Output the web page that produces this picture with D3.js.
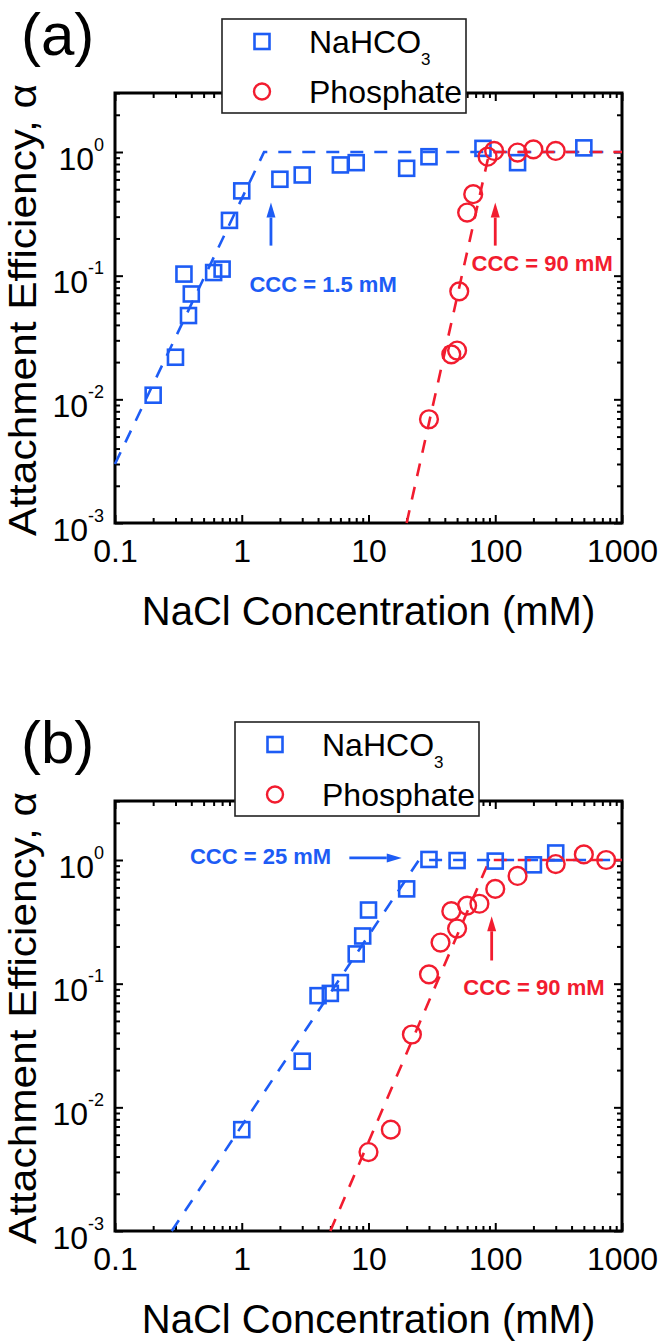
<!DOCTYPE html>
<html>
<head>
<meta charset="utf-8">
<script src="https://cdn.jsdelivr.net/npm/d3@7"></script>
<style>
  body { margin: 0; background: #fff; }
  svg { display: block; font-family: "Liberation Sans", Arial, sans-serif; }
</style>
</head>
<body>
<div id="chart"></div>
<script>
// axis ticks
const xTicks = [0.1, 1, 10, 100, 1000];
const xTickLabels = ['0.1', '1', '10', '100', '1000'];
const yTicks = [1e-3, 1e-2, 1e-1, 1];
const yTickExponents = ['-3', '-2', '-1', '0'];

// panel (a)
const aNaHCO3Conc = [0.2, 0.3, 0.35, 0.4, 0.38, 0.6, 0.7, 0.8, 1, 2, 3, 6, 8, 20, 30, 80, 150, 500];
const aNaHCO3Alpha = [0.0108, 0.0219, 0.103, 0.0711, 0.0476, 0.106, 0.113, 0.28, 0.485, 0.602, 0.652, 0.786, 0.82, 0.738, 0.916, 1.07, 0.82, 1.08];
const aPhosConc = [30, 45, 50, 52, 60, 67, 87, 98, 150, 200, 300];
const aPhosAlpha = [0.0069, 0.0231, 0.0248, 0.0747, 0.324, 0.456, 0.916, 1.02, 0.99, 1.05, 1.02];
const aNaHCO3FitConc = [0.1, 1.5, 1000];
const aNaHCO3FitAlpha = [0.003, 1, 1];
const aPhosFitConc = [20, 90, 1000];
const aPhosFitAlpha = [0.001, 1, 1];

// panel (b)
const bNaHCO3Conc = [1, 3, 4, 5, 6, 8, 9, 10, 20, 30, 50, 100, 200, 300];
const bNaHCO3Alpha = [0.0066, 0.0236, 0.08, 0.0834, 0.102, 0.174, 0.243, 0.394, 0.584, 1.01, 0.99, 0.98, 0.914, 1.14];
const bPhosConc = [10, 15, 22, 30, 37, 45, 50, 60, 75, 100, 150, 300, 500, 750];
const bPhosAlpha = [0.00435, 0.0066, 0.0388, 0.119, 0.215, 0.386, 0.279, 0.428, 0.443, 0.584, 0.743, 0.927, 1.11, 1.0];
const bNaHCO3FitConc = [0.28, 25, 1000];
const bNaHCO3FitAlpha = [0.001, 1, 1];
const bPhosFitConc = [5, 90, 1000];
const bPhosFitAlpha = [0.001, 1, 1];

// annotations: text anchor (data coords) and arrow tail -> tip (data coords)
const aBlueNote = {text: 'CCC = 1.5 mM', x: 1.15, y: 0.074, from: [1.7, 0.175], to: [1.7, 0.39]};
const aRedNote = {text: 'CCC = 90 mM', x: 65, y: 0.11, from: [100, 0.175], to: [100, 0.39]};
const bBlueNote = {text: 'CCC = 25 mM', x: 0.39, y: 0.933, from: [7.06, 1.04], to: [18.3, 1.04]};
const bRedNote = {text: 'CCC = 90 mM', x: 56, y: 0.0803, from: [93.7, 0.154], to: [93.7, 0.351]};

const BLUE = '#1d5cf5';
const RED = '#f21c2f';

const width = 662, height = 1341;
const plot = {left: 115, right: 622, top: 93, bottom: 523};

const svg = d3.select('#chart').append('svg')
  .attr('width', width)
  .attr('height', height);

const zip = (xs, ys) => xs.map((v, i) => ({x: v, y: ys[i]}));

function drawPanel(offset, cfg) {
  const g = svg.append('g').attr('transform', 'translate(0,' + offset + ')');

  const x = d3.scaleLog().domain([0.1, 1000]).range([plot.left, plot.right]);
  const y = d3.scaleLog().domain([1e-3, 3]).range([plot.bottom, plot.top]);

  const xMinor = x.ticks().filter(v => !xTicks.some(t => Math.abs(t - v) < 1e-9));
  const yMinor = y.ticks().filter(v => !yTicks.some(t => Math.abs(t - v) < 1e-9));

  function axisGroup(axis, tx, ty) {
    const a = g.append('g')
      .attr('transform', 'translate(' + tx + ',' + ty + ')')
      .call(axis);
    a.select('.domain').remove();
    a.selectAll('line').attr('stroke', '#000').attr('stroke-width', 2);
    return a;
  }

  // minor ticks on all four sides
  axisGroup(d3.axisBottom(x).tickValues(xMinor).tickSize(-5).tickFormat(''), 0, plot.bottom);
  axisGroup(d3.axisTop(x).tickValues(xMinor).tickSize(-5).tickFormat(''), 0, plot.top);
  axisGroup(d3.axisLeft(y).tickValues(yMinor).tickSize(-5).tickFormat(''), plot.left, 0);
  axisGroup(d3.axisRight(y).tickValues(yMinor).tickSize(-5).tickFormat(''), plot.right, 0);

  // major ticks
  const xb = axisGroup(d3.axisBottom(x).tickValues(xTicks).tickSize(-8)
    .tickFormat((d, i) => xTickLabels[i]), 0, plot.bottom);
  xb.selectAll('text')
    .attr('y', 39).attr('dy', null)
    .attr('fill', '#000')
    .attr('font-size', 32)
    .attr('font-family', '"Liberation Sans", Arial, sans-serif');
  axisGroup(d3.axisTop(x).tickValues(xTicks).tickSize(-8).tickFormat(''), 0, plot.top);

  const yl = axisGroup(d3.axisLeft(y).tickValues(yTicks).tickSize(-8).tickPadding(11)
    .tickFormat(''), plot.left, 0);
  yl.selectAll('text')
    .attr('dy', 17)
    .attr('fill', '#000')
    .attr('font-size', 32)
    .attr('font-family', '"Liberation Sans", Arial, sans-serif')
    .each(function(d, i) {
      const t = d3.select(this);
      t.append('tspan').text('10');
      t.append('tspan').attr('dy', -19).attr('font-size', 18).text(yTickExponents[i]);
    });
  axisGroup(d3.axisRight(y).tickValues(yTicks).tickSize(-8).tickFormat(''), plot.right, 0);

  // frame
  g.append('rect')
    .attr('x', plot.left).attr('y', plot.top)
    .attr('width', plot.right - plot.left)
    .attr('height', plot.bottom - plot.top)
    .attr('fill', 'none')
    .attr('stroke', '#000')
    .attr('stroke-width', 3);

  // fitted dashed lines
  const line = d3.line().x(d => x(d.x)).y(d => y(d.y));
  [[cfg.blueFit, BLUE], [cfg.redFit, RED]].forEach(([pts, c]) => {
    g.append('path')
      .attr('d', line(pts))
      .attr('fill', 'none')
      .attr('stroke', c)
      .attr('stroke-width', 2.6)
      .attr('stroke-dasharray', '13,11');
  });

  // markers
  g.append('g').selectAll('rect')
    .data(cfg.blue)
    .join('rect')
    .attr('x', d => x(d.x) - 7.5)
    .attr('y', d => y(d.y) - 7.5)
    .attr('width', 15).attr('height', 15)
    .attr('fill', 'none')
    .attr('stroke', BLUE)
    .attr('stroke-width', 2.6);

  g.append('g').selectAll('circle')
    .data(cfg.red)
    .join('circle')
    .attr('cx', d => x(d.x))
    .attr('cy', d => y(d.y))
    .attr('r', 8.9)
    .attr('fill', 'none')
    .attr('stroke', RED)
    .attr('stroke-width', 2.4);

  // annotations
  cfg.notes.forEach(([n, c]) => {
    const x0 = x(n.from[0]), y0 = y(n.from[1]);
    const x1 = x(n.to[0]), y1 = y(n.to[1]);
    const ang = Math.atan2(y1 - y0, x1 - x0);
    const len = 15, half = 4.5;
    const bx = x1 - len * Math.cos(ang), by = y1 - len * Math.sin(ang);
    g.append('line')
      .attr('x1', x0).attr('y1', y0).attr('x2', bx).attr('y2', by)
      .attr('stroke', c).attr('stroke-width', 2.8);
    g.append('path')
      .attr('d', 'M' + x1 + ',' + y1 +
        'L' + (bx + half * Math.sin(ang)) + ',' + (by - half * Math.cos(ang)) +
        'L' + (bx - half * Math.sin(ang)) + ',' + (by + half * Math.cos(ang)) + 'Z')
      .attr('fill', c);
    g.append('text')
      .attr('x', x(n.x)).attr('y', y(n.y))
      .attr('fill', c)
      .attr('font-size', 22)
      .attr('font-weight', 'bold')
      .text(n.text);
  });

  // legend
  const L = cfg.legend;
  const lg = g.append('g').attr('transform', 'translate(' + L.x + ',' + L.y + ')');
  lg.append('rect')
    .attr('width', 244).attr('height', 94)
    .attr('fill', '#fff')
    .attr('stroke', '#222')
    .attr('stroke-width', 1.6);
  lg.append('rect')
    .attr('x', 40 - 7.5).attr('y', 22.5 - 7.5)
    .attr('width', 15).attr('height', 15)
    .attr('fill', 'none').attr('stroke', BLUE).attr('stroke-width', 2.6);
  lg.append('circle')
    .attr('cx', 40).attr('cy', 72.5).attr('r', 8)
    .attr('fill', 'none').attr('stroke', RED).attr('stroke-width', 2.4);
  const t1 = lg.append('text')
    .attr('x', 87).attr('y', 34)
    .attr('font-size', 32).attr('fill', '#000');
  t1.append('tspan').text('NaHCO');
  t1.append('tspan').attr('dy', 12).attr('font-size', 17).text('3');
  lg.append('text')
    .attr('x', 87).attr('y', 84)
    .attr('font-size', 32).attr('fill', '#000')
    .text('Phosphate');

  // panel letter
  g.append('text')
    .attr('x', 21).attr('y', 55)
    .attr('font-size', 60).attr('fill', '#000')
    .text(cfg.letter);

  // axis titles
  g.append('text')
    .attr('x', (plot.left + plot.right) / 2).attr('y', 625)
    .attr('text-anchor', 'middle')
    .attr('font-size', 40).attr('fill', '#000')
    .text('NaCl Concentration (mM)');
  g.append('text')
    .attr('transform', 'translate(36,310) rotate(-90)')
    .attr('text-anchor', 'middle')
    .attr('font-size', 38).attr('fill', '#000')
    .attr('textLength', 452)
    .attr('lengthAdjust', 'spacingAndGlyphs')
    .text('Attachment Efficiency, α');
}

drawPanel(0, {
  letter: '(a)',
  blue: zip(aNaHCO3Conc, aNaHCO3Alpha),
  red: zip(aPhosConc, aPhosAlpha),
  blueFit: zip(aNaHCO3FitConc, aNaHCO3FitAlpha),
  redFit: zip(aPhosFitConc, aPhosFitAlpha),
  notes: [[aBlueNote, BLUE], [aRedNote, RED]],
  legend: {x: 222, y: 19}
});

drawPanel(708, {
  letter: '(b)',
  blue: zip(bNaHCO3Conc, bNaHCO3Alpha),
  red: zip(bPhosConc, bPhosAlpha),
  blueFit: zip(bNaHCO3FitConc, bNaHCO3FitAlpha),
  redFit: zip(bPhosFitConc, bPhosFitAlpha),
  notes: [[bBlueNote, BLUE], [bRedNote, RED]],
  legend: {x: 235, y: 14}
});
</script>
</body>
</html>
